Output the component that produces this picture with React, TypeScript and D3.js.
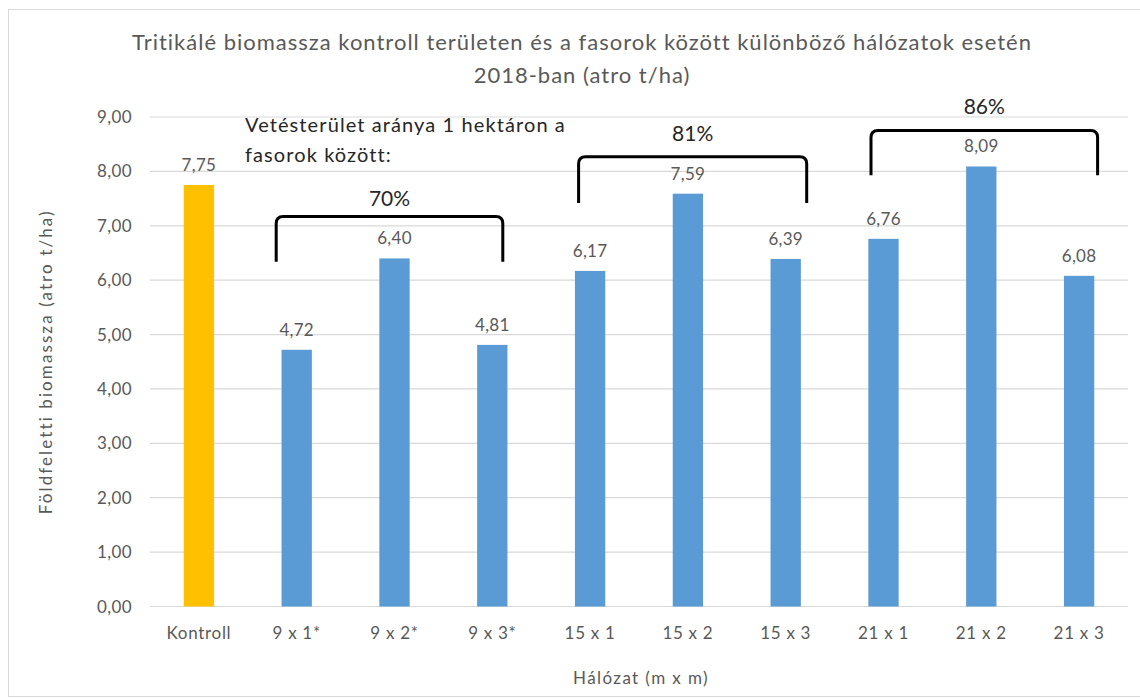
import * as d3 from 'd3';

const categories = ['Kontroll', '9 x 1*', '9 x 2*', '9 x 3*', '15 x 1', '15 x 2', '15 x 3', '21 x 1', '21 x 2', '21 x 3'];
const biomass = [7.75, 4.72, 6.4, 4.81, 6.17, 7.59, 6.39, 6.76, 8.09, 6.08];
const yTicks = [0, 1, 2, 3, 4, 5, 6, 7, 8, 9];

// arány csoportok (zárójelek a hálózatok fölött)
const groupShares = ['70%', '81%', '86%'];
const groupFirst = ['9 x 1*', '15 x 1', '21 x 1'];
const groupLast = ['9 x 3*', '15 x 3', '21 x 3'];

const titleLines = ['Tritikálé biomassza kontroll területen és a fasorok között különböző hálózatok esetén', '2018-ban (atro t/ha)'];
const noteLines = ['Vetésterület aránya 1 hektáron a', 'fasorok között:'];

const width = 1140;
const height = 699;
const margin = { left: 150, right: 12, top: 117, bottom: 92.5 };
const font = 'Lato, "Open Sans", sans-serif';
const gray = '#595959';
const gridColor = '#d9d9d9';

// zárójelek elhelyezése (px eltolás a kategória közepéhez, y értékskálán)
const bracketLayout = [
  { dl: -20.5, dr: 10.5, top: 7.17, bottom: 6.34, label: 7.36 },
  { dl: -11.5, dr: 21, top: 8.27, bottom: 7.42, label: 8.55 },
  { dl: -12.5, dr: 18.5, top: 8.75, bottom: 7.93, label: 9.05 },
];

const locale = d3.formatLocale({ decimal: ',', thousands: ' ', grouping: [3], currency: ['', ''] });
const fmt = locale.format('.2f');

export default function App() {
  const x = d3
    .scaleBand<string>()
    .domain(categories)
    .range([margin.left, width - margin.right])
    .padding(0);
  const y = d3
    .scaleLinear()
    .domain([0, 9])
    .range([height - margin.bottom, margin.top]);
  const barWidth = x.bandwidth() * 0.31;
  const center = (c: string) => (x(c) ?? 0) + x.bandwidth() / 2;

  const bracketPath = (l: number, r: number, t: number, b: number) => {
    const rad = 7;
    return `M${l},${b} L${l},${t + rad} Q${l},${t} ${l + rad},${t} L${r - rad},${t} Q${r},${t} ${r},${t + rad} L${r},${b}`;
  };

  return (
    <svg
      width={width}
      height={height}
      style={{ position: 'fixed', left: 0, top: 0, background: '#fff' }}
      fontFamily={font}
    >
      <rect x={8.5} y={9.5} width={1140} height={687} fill="#fff" stroke={gridColor} />

      {titleLines.map((line, i) => (
        <text key={line} x={582} y={50 + i * 33} textAnchor="middle" fontSize={22} letterSpacing={1} fill={gray}>
          {line}
        </text>
      ))}

      {yTicks.map((t) => (
        <g key={t}>
          <line x1={margin.left} x2={width - margin.right} y1={y(t)} y2={y(t)} stroke={gridColor} strokeWidth={1.2} />
          <text x={132} y={y(t) + 6} textAnchor="end" fontSize={17} letterSpacing={0.4} fill={gray}>
            {fmt(t)}
          </text>
        </g>
      ))}

      {biomass.map((v, i) => (
        <g key={categories[i]}>
          <rect
            x={center(categories[i]) - barWidth / 2}
            y={y(v)}
            width={barWidth}
            height={y(0) - y(v)}
            fill={i === 0 ? '#ffc000' : '#5b9bd5'}
          />
          <text x={center(categories[i])} y={y(v) - 14} textAnchor="middle" fontSize={17} letterSpacing={0.3} fill={gray}>
            {fmt(v)}
          </text>
          <text x={center(categories[i])} y={639} textAnchor="middle" fontSize={17} letterSpacing={0.7} fill={gray}>
            {categories[i]}
          </text>
        </g>
      ))}

      <text
        x={(margin.left + width - margin.right) / 2 + 2}
        y={684}
        textAnchor="middle"
        fontSize={17}
        letterSpacing={1.4}
        fill={gray}
      >
        Hálózat (m x m)
      </text>
      <text
        transform={`translate(52, ${(y(0) + y(9)) / 2}) rotate(-90)`}
        textAnchor="middle"
        fontSize={17}
        letterSpacing={2.1}
        fill={gray}
      >
        Földfeletti biomassza (atro t/ha)
      </text>

      {groupShares.map((share, i) => {
        const b = bracketLayout[i];
        const l = center(groupFirst[i]) + b.dl;
        const r = center(groupLast[i]) + b.dr;
        return (
          <g key={share}>
            <path d={bracketPath(l, r, y(b.top), y(b.bottom))} fill="none" stroke="#000" strokeWidth={3} />
            <text x={(l + r) / 2} y={y(b.label)} textAnchor="middle" fontSize={21} fill="#262626">
              {share}
            </text>
          </g>
        );
      })}

      {noteLines.map((line, i) => (
        <text key={line} x={245} y={132 + i * 30} fontSize={20} letterSpacing={1.1} fill="#262626">
          {line}
        </text>
      ))}
    </svg>
  );
}
